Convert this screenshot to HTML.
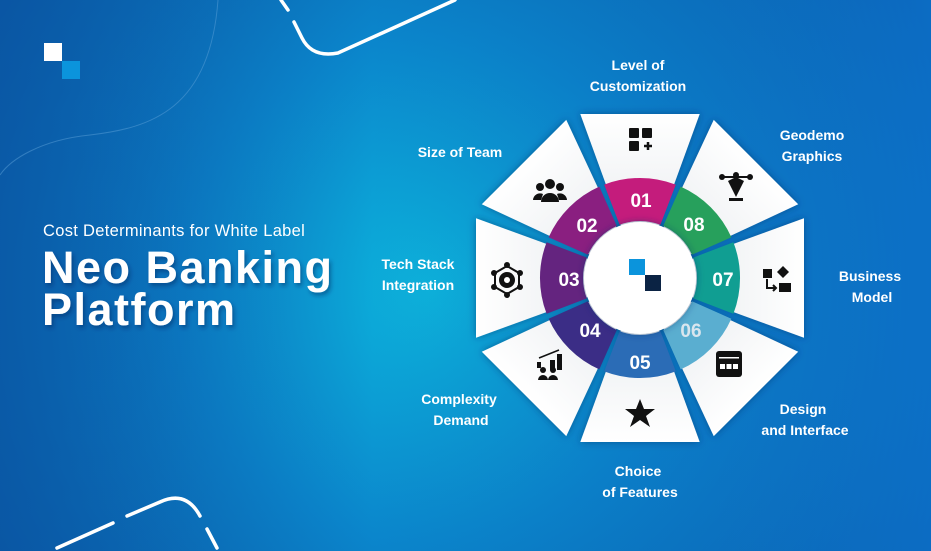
<!DOCTYPE html>
<html><head><meta charset="utf-8"><style>
html,body{margin:0;padding:0;width:931px;height:551px;overflow:hidden}
svg{display:block}
text{font-family:"Liberation Sans",sans-serif}
</style></head><body>
<svg width="931" height="551" viewBox="0 0 931 551" xmlns="http://www.w3.org/2000/svg">
<defs>
<radialGradient id="bg" cx="430" cy="290" r="560" gradientUnits="userSpaceOnUse">
<stop offset="0" stop-color="#0db4dc"/>
<stop offset="0.45" stop-color="#0b86cc"/>
<stop offset="1" stop-color="#0a5aa6"/>
</radialGradient>
<linearGradient id="bg2" x1="0" y1="0" x2="1" y2="0">
<stop offset="0" stop-color="#0a4f9e" stop-opacity="0.6"/>
<stop offset="0.4" stop-color="#0a4f9e" stop-opacity="0"/>
<stop offset="1" stop-color="#0e7ee0" stop-opacity="0.5"/>
</linearGradient>
<linearGradient id="tri" x1="0" y1="0" x2="0" y2="-164" gradientUnits="userSpaceOnUse">
<stop offset="0" stop-color="#e2e6ea"/>
<stop offset="1" stop-color="#ffffff"/>
</linearGradient>
<filter id="sh" x="-30%" y="-30%" width="160%" height="160%"><feDropShadow dx="0" dy="0" stdDeviation="4" flood-color="#06306a" flood-opacity="0.55"/></filter>
<filter id="ts"><feDropShadow dx="2" dy="3" stdDeviation="2" flood-color="#03285a" flood-opacity="0.45"/></filter>
</defs>
<rect width="931" height="551" fill="url(#bg)"/>
<rect width="931" height="551" fill="url(#bg2)"/>
<path d="M218,0 C210,110 150,128 90,135 C40,140 10,160 0,175" fill="none" stroke="#5aa0d8" stroke-width="1" opacity="0.5"/>
<!-- decorative lines -->
<g fill="none" stroke="#fff" stroke-width="3.5" stroke-linecap="round">
<path d="M281,0 L288,10"/>
<path d="M294,22 L302,38 Q312,58 338,53 L455,0"/>
<path d="M57,548 L113,523"/>
<path d="M127,516 L160,502 Q186,490 200,516"/>
<path d="M207,529 L217,548"/>
</g>
<!-- logo -->
<rect x="44" y="43" width="18" height="18" fill="#fff"/>
<rect x="62" y="61" width="18" height="18" fill="#0b94dc"/>
<!-- title -->
<text x="43" y="236" font-size="16.5" fill="#fff" letter-spacing="0.3">Cost Determinants for White Label</text>
<g filter="url(#ts)">
<text x="42" y="283" font-size="45" font-weight="bold" fill="#fff" letter-spacing="1.5">Neo Banking</text>
<text x="42" y="325" font-size="45" font-weight="bold" fill="#fff" letter-spacing="1.5">Platform</text>
</g>
<!-- wheel -->
<g transform="translate(640,278)">
<g filter="url(#sh)">
<polygon points="0,0 -59.7,-164 59.7,-164" fill="url(#tri)" transform="rotate(0)"/>
<polygon points="0,0 -59.7,-164 59.7,-164" fill="url(#tri)" transform="rotate(45)"/>
<polygon points="0,0 -59.7,-164 59.7,-164" fill="url(#tri)" transform="rotate(90)"/>
<polygon points="0,0 -59.7,-164 59.7,-164" fill="url(#tri)" transform="rotate(135)"/>
<polygon points="0,0 -59.7,-164 59.7,-164" fill="url(#tri)" transform="rotate(180)"/>
<polygon points="0,0 -59.7,-164 59.7,-164" fill="url(#tri)" transform="rotate(225)"/>
<polygon points="0,0 -59.7,-164 59.7,-164" fill="url(#tri)" transform="rotate(270)"/>
<polygon points="0,0 -59.7,-164 59.7,-164" fill="url(#tri)" transform="rotate(315)"/>
</g>
<g>
<path d="M-35.8,-93.4 A100,100 0 0 1 35.8,-93.4 L20.4,-53.2 A57,57 0 0 0 -20.4,-53.2Z" fill="#c41c7c" transform="rotate(0)"/>
<path d="M-35.8,-93.4 A100,100 0 0 1 35.8,-93.4 L20.4,-53.2 A57,57 0 0 0 -20.4,-53.2Z" fill="#27a05c" transform="rotate(45)"/>
<path d="M-35.8,-93.4 A100,100 0 0 1 35.8,-93.4 L20.4,-53.2 A57,57 0 0 0 -20.4,-53.2Z" fill="#109e92" transform="rotate(90)"/>
<path d="M-35.8,-93.4 A100,100 0 0 1 35.8,-93.4 L20.4,-53.2 A57,57 0 0 0 -20.4,-53.2Z" fill="#5aaed0" transform="rotate(135)"/>
<path d="M-35.8,-93.4 A100,100 0 0 1 35.8,-93.4 L20.4,-53.2 A57,57 0 0 0 -20.4,-53.2Z" fill="#2b6cb6" transform="rotate(180)"/>
<path d="M-35.8,-93.4 A100,100 0 0 1 35.8,-93.4 L20.4,-53.2 A57,57 0 0 0 -20.4,-53.2Z" fill="#3b2d86" transform="rotate(225)"/>
<path d="M-35.8,-93.4 A100,100 0 0 1 35.8,-93.4 L20.4,-53.2 A57,57 0 0 0 -20.4,-53.2Z" fill="#64247f" transform="rotate(270)"/>
<path d="M-35.8,-93.4 A100,100 0 0 1 35.8,-93.4 L20.4,-53.2 A57,57 0 0 0 -20.4,-53.2Z" fill="#8a1f80" transform="rotate(315)"/>
</g>
<circle cx="0" cy="0" r="56" fill="#fff" filter="url(#sh)"/>
<rect x="-11" y="-19" width="16" height="16" fill="#0b94dc"/>
<rect x="5" y="-3" width="16" height="16" fill="#0b2344"/>
<g font-size="19" font-weight="bold" fill="#fff" text-anchor="middle">
<text x="1" y="-71">01</text>
<text x="54" y="-47">08</text>
<text x="83" y="8">07</text>
<text x="51" y="59" fill="#d9e6ee">06</text>
<text x="0" y="91">05</text>
<text x="-50" y="59">04</text>
<text x="-71" y="8">03</text>
<text x="-53" y="-46">02</text>
</g>
<!-- icons -->
<g fill="#111">
<rect x="-11" y="-150" width="10" height="10" rx="1"/><rect x="2" y="-150" width="10" height="10" rx="1"/><rect x="-11" y="-137" width="10" height="10" rx="1"/>
<path d="M4,-132h8M8,-136v8" stroke="#111" stroke-width="2.5"/>
<g transform="translate(96,-93)">
<path d="M-14,-8 H14" stroke="#111" stroke-width="2"/>
<circle cx="-14" cy="-8" r="3"/><circle cx="14" cy="-8" r="3"/><circle cx="0" cy="-10" r="3"/>
<path d="M-8,-4 L0,12 L8,-4 L0,-8Z"/><rect x="-7" y="13" width="14" height="3"/>
</g>
<g transform="translate(137,4)">
<rect x="-14" y="-13" width="9" height="9"/><path d="M6,-16 l6,6 -6,6 -6,-6Z"/><rect x="2" y="1" width="12" height="9"/>
<path d="M-10,-3 V6 H-1 M-4,3 l3,3 -3,3" fill="none" stroke="#111" stroke-width="2"/>
</g>
<g transform="translate(89,86)">
<rect x="-13" y="-13" width="26" height="26" rx="3"/>
<rect x="-10" y="-7" width="20" height="1.5" fill="#fff"/>
<rect x="-9" y="0" width="5" height="5" fill="#fff"/><rect x="-2.5" y="0" width="5" height="5" fill="#fff"/><rect x="4" y="0" width="5" height="5" fill="#fff"/>
</g>
<path d="M0,121 L4,131 L15,131 L6,138 L10,149 L0,142 L-10,149 L-6,138 L-15,131 L-4,131Z"/>
<g transform="translate(-89,88)">
<rect x="6" y="-12" width="5" height="16"/><rect x="-1" y="-6" width="5" height="10"/><rect x="-14" y="-4" width="4" height="6"/>
<circle cx="-8" cy="4" r="3"/><circle cx="2" cy="4" r="3"/><path d="M-13,14 a5,5 0 0 1 10,0Z M-3,14 a5,5 0 0 1 10,0Z"/>
<path d="M-12,-8 L8,-16" stroke="#111" stroke-width="1.5"/>
</g>
<g transform="translate(-133,2)">
<path d="M0,-14 L12,-7 L12,7 L0,14 L-12,7 L-12,-7Z" fill="none" stroke="#111" stroke-width="2"/>
<circle r="8"/><circle r="3" fill="#fff"/>
<circle cx="0" cy="-15" r="3"/><circle cx="13" cy="-7" r="3"/><circle cx="13" cy="7" r="3"/><circle cx="0" cy="15" r="3"/><circle cx="-13" cy="7" r="3"/><circle cx="-13" cy="-7" r="3"/>
</g>
<g transform="translate(-90,-88)">
<circle cx="0" cy="-6" r="5"/><circle cx="-10" cy="-3" r="4"/><circle cx="10" cy="-3" r="4"/>
<path d="M-9,12 a9,9 0 0 1 18,0Z M-17,10 a7,7 0 0 1 10,-6 l-2,6Z M17,10 a7,7 0 0 0 -10,-6 l2,6Z"/>
</g>
</g>
</g>
<!-- labels -->
<g font-size="14" font-weight="bold" fill="#fff" text-anchor="middle">
<text x="638" y="70">Level of</text><text x="638" y="91">Customization</text>
<text x="460" y="157">Size of Team</text>
<text x="812" y="140">Geodemo</text><text x="812" y="161">Graphics</text>
<text x="418" y="269">Tech Stack</text><text x="418" y="290">Integration</text>
<text x="870" y="281">Business</text><text x="872" y="302">Model</text>
<text x="459" y="404">Complexity</text><text x="461" y="425">Demand</text>
<text x="803" y="414">Design</text><text x="805" y="435">and Interface</text>
<text x="638" y="476">Choice</text><text x="640" y="497">of Features</text>
</g>
</svg>
</body></html>
